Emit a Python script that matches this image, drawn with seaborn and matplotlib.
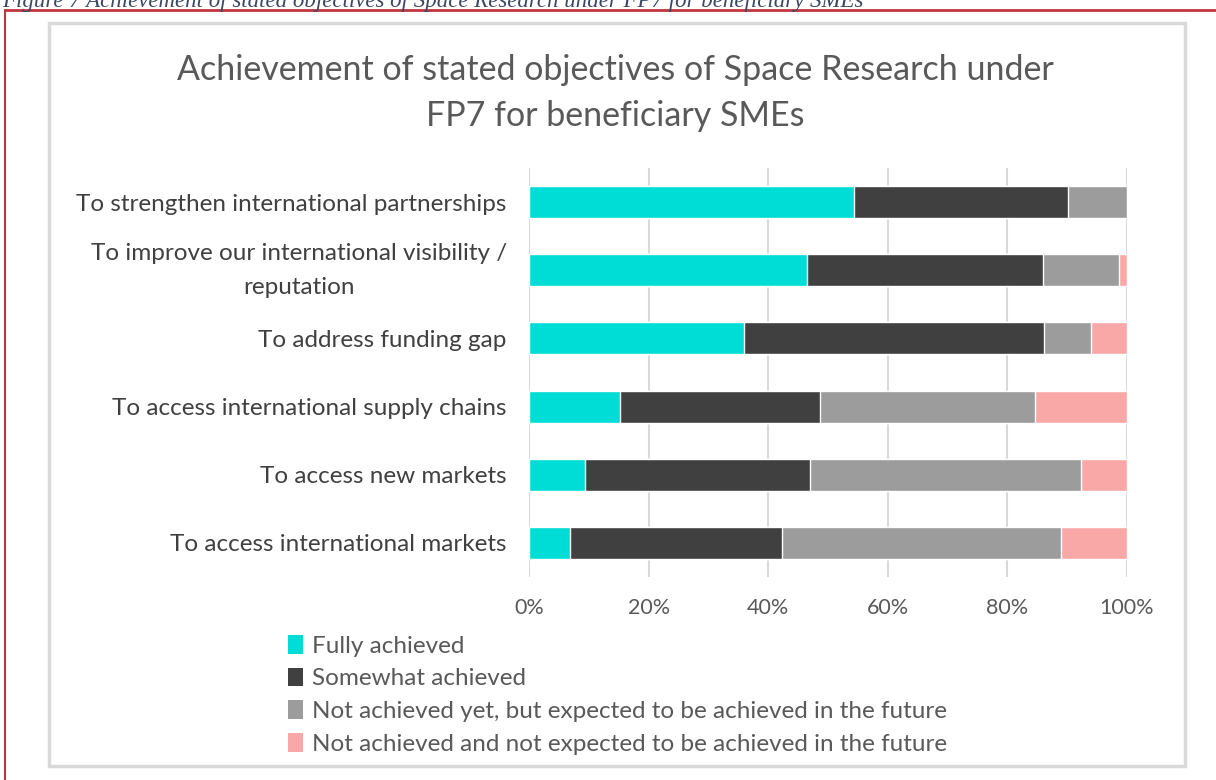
import pandas as pd
import matplotlib.pyplot as plt
import seaborn as sns
from matplotlib.patches import Patch, Rectangle
from matplotlib.lines import Line2D

sns.set_theme(style="white")
plt.rcParams['font.family'] = ['Lato', 'DejaVu Sans']

# data (percent of respondents)
objectives = [
    'To strengthen international partnerships',
    'To improve our international visibility /\nreputation',
    'To address funding gap',
    'To access international supply chains',
    'To access new markets',
    'To access international markets',
]
fully = [54.4, 46.5, 36.0, 15.3, 9.3, 6.8]
somewhat = [35.8, 39.4, 50.1, 33.4, 37.7, 35.5]
not_yet = [9.8, 12.8, 7.9, 35.9, 45.3, 46.6]
not_expected = [0.0, 1.3, 6.0, 15.4, 7.7, 11.1]

series = [
    'Fully achieved',
    'Somewhat achieved',
    'Not achieved yet, but expected to be achieved in the future',
    'Not achieved and not expected to be achieved in the future',
]
colors = ['#00DCD6', '#404040', '#9C9C9C', '#F9A7A7']
grey_txt = '#595959'

df = pd.DataFrame({'objective': objectives, series[0]: fully, series[1]: somewhat,
                   series[2]: not_yet, series[3]: not_expected})

# cumulative sums so the bars can be drawn on top of each other
cum = df[series].cumsum(axis=1)
cum['objective'] = df['objective']

W, H = 1216, 780
fig = plt.figure(figsize=(W / 100, H / 100), dpi=100)

# outer red frame (top and left) and inner chart frame
fig.add_artist(Line2D([5 / W, 1], [1 - 10 / H, 1 - 10 / H], color='#C0353D', lw=2, transform=fig.transFigure))
fig.add_artist(Line2D([5 / W, 5 / W], [0, 1 - 10 / H], color='#C0353D', lw=1.5, transform=fig.transFigure))
fig.add_artist(Rectangle((49 / W, 14 / H), 1136 / W, 743 / H, transform=fig.transFigure,
                         fill=False, ec='#D9D9D9', lw=2.5))

# caption, cut off at the top of the page
fig.text(2 / W, 1 - 1 / H, 'Figure 7 Achievement of stated objectives of Space Research under FP7 for beneficiary SMEs',
         ha='left', va='center', fontsize=16.5, style='italic', color='#3A4766',
         family=['Liberation Serif', 'DejaVu Serif'])

ax = fig.add_axes([529 / W, 1 - 577 / H, 598 / W, 409 / H])
for s, c in reversed(list(zip(series, colors))):
    sns.barplot(data=cum, x=s, y='objective', color=c, width=0.47, orient='h',
                saturation=1, ax=ax, zorder=3)

ax.set_xlim(0, 100)
ax.set_ylim(5.5, -0.5)
ax.set_xticks([0, 20, 40, 60, 80, 100])
ax.set_xticklabels([f'{v}%' for v in range(0, 101, 20)])
ax.set_xlabel('')
ax.set_ylabel('')
ax.grid(axis='x', color='#D9D9D9', lw=1.5, zorder=0)
ax.grid(axis='y', visible=False)
for sp in ax.spines.values():
    sp.set_visible(False)
ax.tick_params(axis='x', labelsize=15.5, colors=grey_txt, pad=15, length=0)
ax.tick_params(axis='y', labelsize=17.5, colors='#404040', pad=16, length=0)
for t in ax.get_yticklabels():
    t.set_horizontalalignment('right')
    t.set_multialignment('center')
    t.set_linespacing(1.75)
    if '\n' in t.get_text():
        t.set_verticalalignment('center')

fig.text(615 / W, 1 - 93 / H, 'Achievement of stated objectives of Space Research under\nFP7 for beneficiary SMEs',
         ha='center', va='center', fontsize=24.5, color=grey_txt, linespacing=1.5)

handles = [Patch(facecolor=c, edgecolor='none', label=s) for s, c in zip(series, colors)]
fig.legend(handles=handles, loc='upper left', bbox_to_anchor=(288 / W, 1 - 635 / H),
           frameon=False, fontsize=17.5, labelcolor=grey_txt, handlelength=0.6,
           handleheight=0.8, handletextpad=0.4, labelspacing=0.45, borderpad=0, borderaxespad=0)

plt.savefig('out.png', dpi=100)
